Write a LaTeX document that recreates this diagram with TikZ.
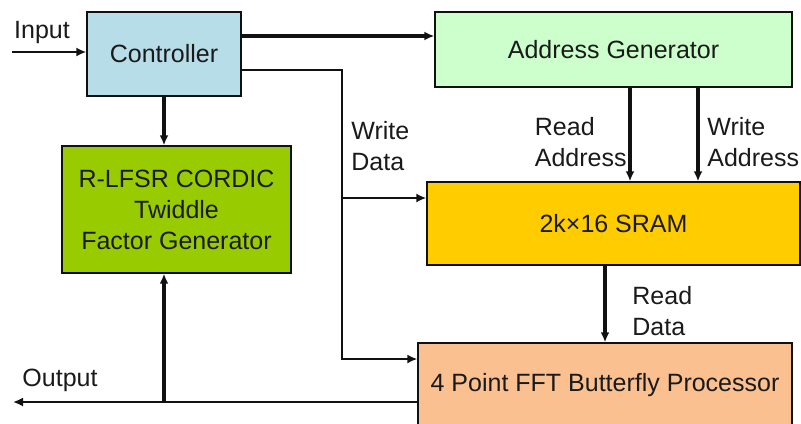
\documentclass[tikz,border=0pt]{standalone}
\usepackage{fontspec}
\setmainfont{Liberation Sans}
\usepackage{tikz}
\usepackage{xcolor}
\usetikzlibrary{
  positioning, arrows.meta, calc,
}
\definecolor{cCtrl}   {HTML}{B7DDE8}
\definecolor{cAddr}   {HTML}{CCFFCC}
\definecolor{cTwid}   {HTML}{99CC00}
\definecolor{cSram}   {HTML}{FFCC00}
\definecolor{cFft}    {HTML}{FAC090}
\definecolor{cEdge}   {HTML}{111111}
\definecolor{cText}   {HTML}{1A1A1A}

\tikzset{
  blk/.style={draw=cEdge, line width=0.7pt, inner sep=0pt, align=center,
              text=cText, font=\fontsize{12.5}{15.5}\selectfont},
  lbl/.style={inner sep=0pt, align=left, text=cText,
              font=\fontsize{12.5}{15.5}\selectfont},
  busarr/.style={-{Latex[length=5pt,width=4.5pt]}, line width=1.6pt, draw=cEdge},
  sigarr/.style={-{Latex[length=5pt,width=4.5pt]}, line width=0.9pt, draw=cEdge},
}

\begin{document}
\begin{tikzpicture}[x=0.5pt, y=-0.5pt]
  \useasboundingbox (0,0) rectangle (801,423);

  \node[blk, fill=cCtrl, minimum width=77pt,   minimum height=42pt]   (ctrl) at (164,54)    {Controller};
  \node[blk, fill=cAddr, minimum width=178.5pt, minimum height=37.5pt] (addr) at (613.5,49.5) {Address Generator};
  \node[blk, fill=cTwid, minimum width=114.5pt, minimum height=63.5pt] (twid) at (176.5,209.5) {R-LFSR CORDIC\\Twiddle\\Factor Generator};
  \node[blk, fill=cSram, minimum width=186.5pt, minimum height=41.5pt] (sram) at (613.5,223.5) {2k×16 SRAM};
  \node[blk, fill=cFft,  minimum width=187pt,   minimum height=42.5pt] (fft)  at (605,385.5)   {4 Point FFT Butterfly Processor};

  % junction points
  \coordinate (inpt)  at (12,52);
  \coordinate (outp)  at (13,402);
  \coordinate (agy)   at (300,36);
  \coordinate (wdup)  at (342,70);
  \coordinate (wdmid) at (342,198);
  \coordinate (wdlow) at (342,359);
  \coordinate (rdax)  at (630,0);
  \coordinate (wrax)  at (698,0);

  \draw[sigarr] (inpt) -- (inpt -| ctrl.west);
  \draw[busarr] (ctrl.east |- agy) -- (addr.west |- agy);
  \draw[busarr] (ctrl.south) -- (ctrl.south |- twid.north);
  \draw[sigarr] (ctrl.east |- wdup) -- (wdup) -- (wdlow) -- (wdlow -| fft.west);
  \draw[sigarr] (wdmid) -- (wdmid -| sram.west);
  \draw[busarr] (rdax |- addr.south) -- (rdax |- sram.north);
  \draw[busarr] (wrax |- addr.south) -- (wrax |- sram.north);
  \draw[busarr] (fft.north |- sram.south) -- (fft.north);
  \draw[sigarr] (fft.west |- outp) -- (outp);
  \draw[busarr] (ctrl.south |- outp) -- (ctrl.south |- twid.south);

  \node[lbl] (lin)  at (42,32)  {Input};
  \node[lbl] (lout) at (60,380) {Output};
  \node[lbl, anchor=west] (lwd) at (351,146) {Write\\Data};
  \node[lbl, anchor=east] (lra) at (627,142) {Read\\Address};
  \node[lbl, anchor=west] (lwa) at (707,142) {Write\\Address};
  \node[lbl, anchor=west] (lrd) at (632,311) {Read\\Data};
\end{tikzpicture}
\end{document}
